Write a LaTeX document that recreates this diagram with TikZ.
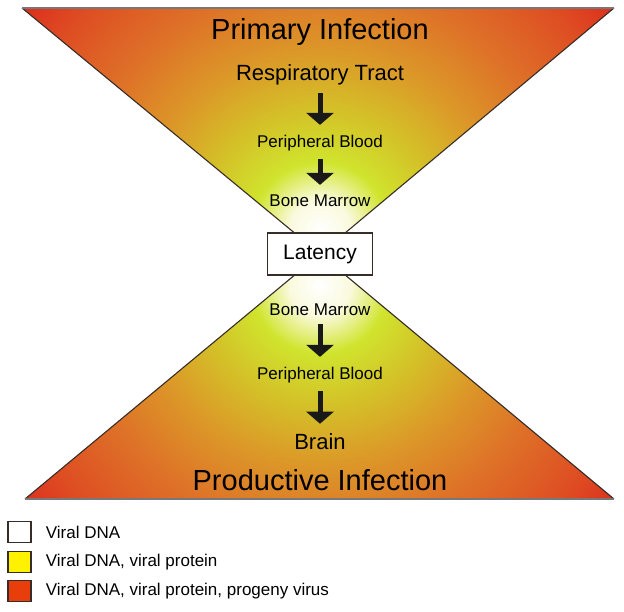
\documentclass[tikz,border=0pt]{standalone}
\usepackage{fontspec}
\setmainfont{Liberation Sans}
\usetikzlibrary{arrows.meta,
                positioning}

\definecolor{glowA}{RGB}{250,250,222}
\definecolor{glowB}{RGB}{208,228,45}
\definecolor{glowC}{RGB}{212,192,40}
\definecolor{glowD}{RGB}{220,150,40}
\definecolor{glowE}{RGB}{222,115,40}
\definecolor{glowF}{RGB}{222,78,35}
\definecolor{glowG}{RGB}{220,40,28}
\definecolor{rimgray}{RGB}{120,120,120}
\definecolor{edgegray}{RGB}{55,45,40}
\definecolor{keyred}{RGB}{232,62,12}
% the path's radius sits at 25bp
\pgfdeclareradialshading{glow}{\pgfpoint{0bp}{0bp}}{%
  color(0bp)=(white); color(2bp)=(glowA); color(4.5bp)=(glowB);
  color(8bp)=(glowC); color(12bp)=(glowD); color(16bp)=(glowE);
  color(21bp)=(glowF); color(25bp)=(glowG); color(50bp)=(glowG)}

\begin{document}
\begin{tikzpicture}[x=1pt, y=-1pt,
title/.style = {font=\fontsize{29}{34}\selectfont, inner sep=0pt},
site/.style  = {font=\fontsize{22}{26}\selectfont, inner sep=0pt},
stage/.style = {font=\fontsize{17}{20}\selectfont, inner sep=0pt},
flow/.style  = {draw=black!90, line width=5pt,
                -{Triangle[width=27pt, length=12pt]},
                shorten <=8pt, shorten >=10pt},
key/.style   = {draw=edgegray, line width=1.3pt,
                minimum width=23pt, minimum height=21pt, inner sep=0pt}
                ]
\useasboundingbox (0,0) rectangle (624,612);
% hourglass corners
\coordinate (tl) at (22,8);
\coordinate (tr) at (614,8);
\coordinate (apex) at (320,254);
\coordinate (bl) at (25,499);
\coordinate (br) at (614,499);
%
\begin{scope}
  \clip (tl) -- (tr) -- (apex) -- cycle;
  \shade[shading=glow] (320,230) circle[radius=380];
\end{scope}
\begin{scope}
  \clip (bl) -- (br) -- (apex) -- cycle;
  \shade[shading=glow] (320,285) circle[radius=380];
\end{scope}
\draw[edgegray, line width=1.1pt] (tl) -- (apex) -- (tr);
\draw[edgegray, line width=1.1pt] (bl) -- (apex) -- (br);
\draw[rimgray, line width=2pt] (tl) -- (tr);
\draw[rimgray, line width=2pt] (bl) -- (br);
%
\node[draw=edgegray, line width=1.3pt, fill=white,
      minimum width=105pt, minimum height=42pt, inner sep=0pt,
      font=\fontsize{21}{25}\selectfont] (latency) at (apex) {Latency};
%
\node[title] (primary) at (320,32) {Primary Infection};
\node[site]  (resp)    at (320,75) {Respiratory Tract};
\node[stage] (bloodA)  at (320,143) {Peripheral Blood};
\node[stage] (marrowA) at (320,201) {Bone Marrow};
\node[stage] (marrowB) at (320,310) {Bone Marrow};
\node[stage] (bloodB)  at (320,375) {Peripheral Blood};
\node[site]  (brain)   at (320,442) {Brain};
\node[title] (product) at (320,480) {Productive Infection};
%
\draw[flow] (resp) -- (bloodA);
\draw[flow] (bloodA) -- (marrowA);
\draw[flow] (marrowB) -- (bloodB);
\draw[flow] (bloodB) -- (brain);
% legend
\node[key, fill=white]  (keyA) at (19.5,532) {};
\node[key, fill=yellow] (keyB) at (19.5,562) {};
\node[key, fill=keyred] (keyC) at (19.5,591) {};
\node[stage, right=14pt of keyA] {Viral DNA};
\node[stage, right=14pt of keyB] {Viral DNA, viral protein};
\node[stage, right=14pt of keyC] {Viral DNA, viral protein, progeny virus};
\end{tikzpicture}
\end{document}
